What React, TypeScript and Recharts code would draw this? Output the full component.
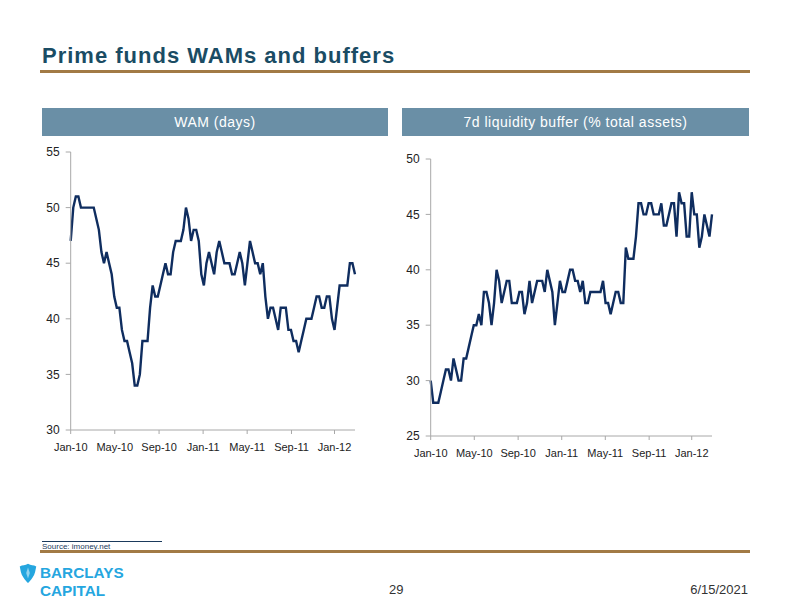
import React from 'react';
import { LineChart, Line, XAxis, YAxis } from 'recharts';

const tickPositions = [0, 17.2, 34.5, 51.7, 68.9, 86.2, 103];
const tickLabels = ['Jan-10', 'May-10', 'Sep-10', 'Jan-11', 'May-11', 'Sep-11', 'Jan-12'];

const wamDays = [
  47, 50, 51, 51, 50, 50, 50, 50, 50, 50,
  49, 48, 46, 45, 46, 45, 44, 42, 41, 41,
  39, 38, 38, 37, 36, 34, 34, 35, 38, 38,
  38, 41, 43, 42, 42, 43, 44, 45, 44, 44,
  46, 47, 47, 47, 48, 50, 49, 47, 48, 48,
  47, 44, 43, 45, 46, 45, 44, 46, 47, 46,
  45, 45, 45, 44, 44, 45, 46, 45, 43, 45,
  47, 46, 45, 45, 44, 45, 42, 40, 41, 41,
  40, 39, 41, 41, 41, 39, 39, 38, 38, 37,
  38, 39, 40, 40, 40, 41, 42, 42, 41, 41,
  42, 42, 40, 39, 41, 43, 43, 43, 43, 45,
  45, 44,
];

const liquidityBuffer = [
  30, 28, 28, 28, 29, 30, 31, 31, 30, 32,
  31, 30, 30, 32, 32, 33, 34, 35, 35, 36,
  35, 38, 38, 37, 35, 37, 40, 39, 37, 38,
  39, 39, 37, 37, 37, 38, 38, 36, 37, 39,
  37, 38, 39, 39, 39, 38, 40, 39, 38, 35,
  37, 39, 38, 38, 39, 40, 40, 39, 39, 38,
  39, 37, 37, 38, 38, 38, 38, 38, 39, 37,
  37, 36, 37, 38, 38, 37, 37, 42, 41, 41,
  41, 43, 46, 46, 45, 45, 46, 46, 45, 45,
  45, 46, 44, 44, 45, 46, 46, 43, 47, 46,
  46, 43, 43, 47, 45, 45, 42, 43, 45, 44,
  43, 45,
];

const wamTicks = [30, 35, 40, 45, 50, 55];
const bufferTicks = [25, 30, 35, 40, 45, 50];

const wamData = wamDays.map((v, i) => ({ w: i, v }));
const bufferData = liquidityBuffer.map((v, i) => ({ w: i, v }));

const FONT = 'Arial, "Liberation Sans", sans-serif';
const LINE_COLOR = '#0f2d5f';
const AXIS_COLOR = '#a8a8a8';

const fmtX = (v: number) => {
  const idx = tickPositions.indexOf(v);
  return idx >= 0 ? tickLabels[idx] : '';
};

function Panel({ data, ticks, domain, yWidth, marginLeft, width, height }: any) {
  return (
    <LineChart
      width={width}
      height={height}
      data={data}
      margin={{ top: 12, right: 15, left: marginLeft, bottom: 0 }}
    >
      <XAxis
        dataKey="w"
        type="number"
        domain={[0, 111]}
        ticks={tickPositions}
        tickFormatter={fmtX}
        interval={0}
        height={30}
        stroke={AXIS_COLOR}
        tickSize={4}
        tickMargin={9}
        tick={{ fill: '#222', fontSize: 11, fontFamily: FONT }}
        allowDecimals
      />
      <YAxis
        type="number"
        domain={domain}
        ticks={ticks}
        interval={0}
        width={yWidth}
        stroke={AXIS_COLOR}
        tickSize={5}
        tickMargin={6}
        tick={{ fill: '#222', fontSize: 12, fontFamily: FONT }}
      />
      <Line
        type="linear"
        dataKey="v"
        stroke={LINE_COLOR}
        strokeWidth={2.4}
        dot={false}
        isAnimationActive={false}
      />
    </LineChart>
  );
}

export default function App() {
  const logoText: React.CSSProperties = {
    position: 'absolute', left: 40, fontSize: 15, fontWeight: 'bold', color: '#25a6df',
    lineHeight: '17px', height: 17, transform: 'scaleX(1.02)', transformOrigin: 'left top', whiteSpace: 'nowrap',
  };
  return (
    <div
      style={{
        position: 'absolute',
        left: 0,
        top: 0,
        width: 792,
        height: 612,
        background: '#fff',
        fontFamily: FONT,
        overflow: 'hidden',
      }}
    >
      <div
        style={{
          position: 'absolute',
          left: 42,
          top: 42,
          fontSize: 22,
          fontWeight: 'bold',
          color: '#1a4c64',
          whiteSpace: 'nowrap',
          lineHeight: '28px',
          letterSpacing: 1,
        }}
      >
        Prime funds WAMs and buffers
      </div>
      <div style={{ position: 'absolute', left: 40, top: 70, width: 710, height: 2.5, background: '#a27a45' }} />

      <div
        style={{
          position: 'absolute', left: 42, top: 108, width: 346, height: 28,
          background: '#6a8fa6', color: '#fff', fontSize: 14, letterSpacing: 0.5, textAlign: 'center', lineHeight: '28px',
        }}
      >
        WAM (days)
      </div>
      <div
        style={{
          position: 'absolute', left: 402, top: 108, width: 347, height: 28,
          background: '#6a8fa6', color: '#fff', fontSize: 14, letterSpacing: 0.5, textAlign: 'center', lineHeight: '28px',
        }}
      >
        7d liquidity buffer (% total assets)
      </div>

      <div style={{ position: 'absolute', left: 0, top: 140 }}>
        <Panel data={wamData} ticks={wamTicks} domain={[30, 55]} yWidth={40} marginLeft={30.7} width={370} height={320} />
      </div>
      <div style={{ position: 'absolute', left: 360, top: 147 }}>
        <Panel data={bufferData} ticks={bufferTicks} domain={[25, 50]} yWidth={40} marginLeft={30.7} width={367} height={319} />
      </div>

      <div style={{ position: 'absolute', left: 42, top: 541, width: 120, height: 1, background: '#1b3a5c' }} />
      <div style={{ position: 'absolute', left: 42, top: 542, fontSize: 8, color: '#1b3a5c', lineHeight: '9px' }}>
        Source: imoney.net
      </div>
      <div style={{ position: 'absolute', left: 40, top: 550, width: 710, height: 2.5, background: '#a27a45' }} />

      <svg style={{ position: 'absolute', left: 17, top: 562 }} width={22} height={22} viewBox="0 0 24 24">
        <path
          d="M12 2 C9 4 6 3 3 5 C4 9 4 13 7 17 C9 20 11 22 12 23 C13 22 15 20 17 17 C20 13 20 9 21 5 C18 3 15 4 12 2 Z"
          fill="#25a6df"
        />
        <path d="M12 6 L10 12 L12 18 L14 12 Z" fill="#fff" opacity={0.5} />
      </svg>
      <div style={{ ...logoText, top: 564 }}>BARCLAYS</div>
      <div style={{ ...logoText, top: 581.5 }}>CAPITAL</div>

      <div style={{ position: 'absolute', left: 389, top: 582, fontSize: 13, color: '#333', lineHeight: '15px' }}>29</div>
      <div style={{ position: 'absolute', right: 44, top: 582, fontSize: 13, color: '#333', lineHeight: '15px' }}>6/15/2021</div>
    </div>
  );
}
